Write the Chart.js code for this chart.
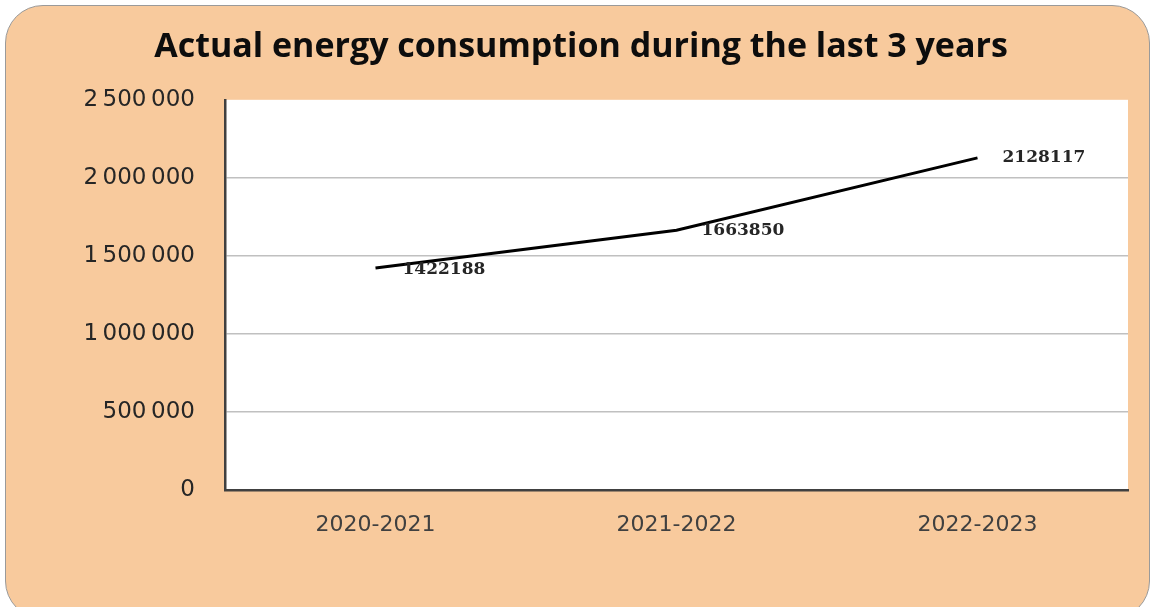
<!DOCTYPE html>
<html>
<head>
<meta charset="utf-8">
<script src="https://cdn.jsdelivr.net/npm/chart.js@4.4.0/dist/chart.umd.min.js"></script>
<style>
  html,body{margin:0;padding:0;background:#fff;}
  #box{position:absolute;left:5px;top:5px;width:1143px;height:612px;background:#f8ca9d;border:1.5px solid #9a9a9a;border-radius:38px;}
  #wrap{position:absolute;left:0;top:0;width:1152px;height:607px;}
</style>
</head>
<body>
<div id="box"></div>
<div id="wrap"><canvas id="energy"></canvas></div>
<script>
var years = ["2020-2021", "2021-2022", "2022-2023"];
var consumption = [1422188, 1663850, 2128117];
var yTicks = [0, 500000, 1000000, 1500000, 2000000, 2500000];
// label offsets from each point (dx, dy)
var labelDx = [27, 25, 25];
var labelDy = [2, 0, 0];

function fmt(v){
  // excel style "2 500 000" with narrow gaps
  if (v == 0) return "0";
  return String(v).replace(/\B(?=(\d{3})+(?!\d))/g, "\u2009");
}

var plotBg = {
  id: 'plotBg',
  beforeDraw: function(chart){
    var a = chart.chartArea, c = chart.ctx;
    c.save();
    c.fillStyle = '#ffffff';
    c.fillRect(a.left, a.top, a.right - a.left, a.bottom - a.top);
    c.restore();
  }
};

var valueLabels = {
  id: 'valueLabels',
  afterDatasetsDraw: function(chart){
    var c = chart.ctx;
    var pts = chart.getDatasetMeta(0).data;
    c.save();
    c.font = 'bold 17px "DejaVu Serif"';
    c.fillStyle = '#262626';
    c.textAlign = 'left';
    c.textBaseline = 'middle';
    for (var i = 0; i < pts.length; i++) {
      c.fillText(String(consumption[i]), pts[i].x + labelDx[i], pts[i].y + labelDy[i]);
    }
    c.restore();
  }
};

var ctx = document.getElementById("energy").getContext("2d");
var chart = new Chart(ctx, {
  type: 'line',
  data: {
    labels: years,
    datasets: [{
      data: consumption,
      borderColor: '#000000',
      borderWidth: 3,
      pointRadius: 0,
      tension: 0,
      fill: false
    }]
  },
  options: {
    responsive: true,
    maintainAspectRatio: false,
    animation: false,
    layout: { padding: { left: 34, right: 24, top: 0, bottom: 0 } },
    plugins: {
      legend: { display: false },
      tooltip: { enabled: false },
      title: {
        display: true,
        text: 'Actual energy consumption during the last 3 years',
        color: '#0d0d0d',
        font: { family: '"Open Sans"', weight: 'bold', size: 34 },
        padding: { top: 27, bottom: 32 }
      }
    },
    scales: {
      x: {
        offset: true,
        grid: { display: false, drawTicks: false },
        border: { display: true, color: '#404040', width: 2.5 },
        ticks: {
          color: '#404040',
          padding: 22,
          font: { family: '"DejaVu Sans"', size: 22 }
        },
        afterFit: function(s){ s.height = 117; }
      },
      y: {
        min: 0,
        max: 2500000,
        afterBuildTicks: function(s){ s.ticks = yTicks.map(function(v){ return { value: v }; }); },
        grid: {
          drawTicks: false,
          color: function(c){ return (c.tick && (c.tick.value == 2500000 || c.tick.value == 0)) ? 'rgba(0,0,0,0)' : '#c0c0c0'; },
          lineWidth: 1.5
        },
        border: { display: true, color: '#404040', width: 2.5 },
        ticks: {
          color: '#262626',
          padding: 30,
          font: { family: '"DejaVu Sans"', size: 23 },
          callback: function(v){ return fmt(v); }
        },
        afterFit: function(s){ s.width = 191; }
      }
    }
  },
  plugins: [plotBg, valueLabels]
});
</script>
</body>
</html>
